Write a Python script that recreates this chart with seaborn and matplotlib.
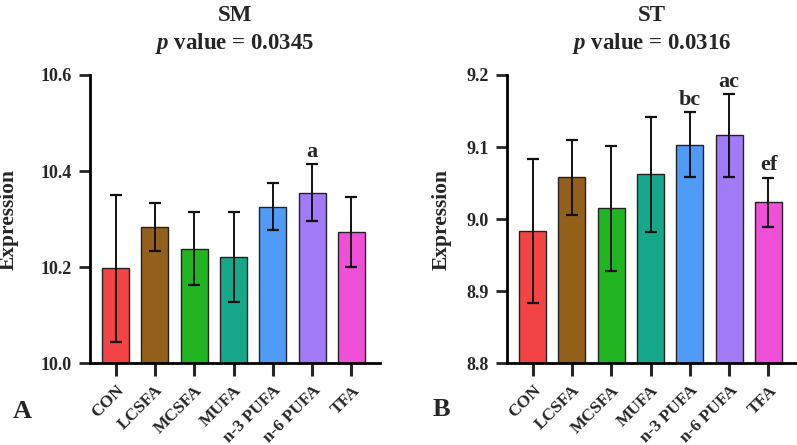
import matplotlib
matplotlib.use("Agg")
import numpy as np
import pandas as pd
import matplotlib.pyplot as plt
import seaborn as sns

# data
groups = ['CON', 'LCSFA', 'MCSFA', 'MUFA', 'n-3 PUFA', 'n-6 PUFA', 'TFA']
sm_mean = [10.198, 10.283, 10.238, 10.221, 10.326, 10.355, 10.273]
sm_sd = [0.153, 0.050, 0.076, 0.094, 0.049, 0.059, 0.073]
sm_marks = ['', '', '', '', '', 'a', '']
st_mean = [8.983, 9.058, 9.015, 9.062, 9.103, 9.116, 9.023]
st_sd = [0.100, 0.052, 0.087, 0.080, 0.045, 0.057, 0.034]
st_marks = ['', '', '', '', 'bc', 'ac', 'ef']
colors = ['#F24444', '#93601C', '#22B522', '#16A88A', '#4F9BF5', '#A07BF5', '#F04FD8']

sns.set_style('white')
plt.rcParams['font.family'] = ['Liberation Serif', 'DejaVu Serif']
plt.rcParams['font.weight'] = 'bold'
plt.rcParams['mathtext.fontset'] = 'custom'
plt.rcParams['mathtext.it'] = 'Liberation Serif:italic:bold'
plt.rcParams['mathtext.rm'] = 'Liberation Serif:bold'

fig = plt.figure(figsize=(7.97, 4.45), dpi=100)
ax1 = fig.add_axes([0.1125, 0.184, 0.3645, 0.6475])
ax2 = fig.add_axes([0.6357, 0.184, 0.3645, 0.6475])


def panel(ax, mean, sd, marks, title, pval, ylim, yticks, label_x):
    df = pd.DataFrame({'group': groups, 'value': mean})
    sns.barplot(data=df, x='group', y='value', hue='group', palette=colors,
                saturation=1, legend=False, width=0.69, edgecolor='#222222',
                linewidth=1.0, errorbar=None, ax=ax)
    ax.errorbar(np.arange(len(groups)), mean, yerr=sd, fmt='none',
                ecolor='#111111', elinewidth=1.4, capsize=4.2, capthick=1.6, zorder=5)
    for i, m in enumerate(marks):
        if m:
            ax.annotate(m, (i, mean[i] + sd[i]), xytext=(0, 2), textcoords='offset points',
                        ha='center', va='bottom', fontsize=16, fontweight='bold')
    ax.set_ylim(*ylim)
    ax.set_xlim(-0.66, 6.73)
    ax.set_yticks(yticks)
    ax.set_yticklabels(['%.1f' % t for t in yticks], fontsize=13, fontweight='bold')
    ax.set_xticks(range(len(groups)))
    ax.set_xticklabels(groups, rotation=45, ha='right', rotation_mode='anchor',
                       fontsize=12.5, fontweight='bold')
    ax.tick_params(axis='x', bottom=True, length=9, width=2.2, direction='out', pad=5)
    ax.tick_params(axis='y', left=True, length=8, width=2.0, direction='out', pad=5)
    ax.set_xlabel('')
    ax.set_ylabel('Expression', fontsize=15.5, fontweight='bold')
    ax.yaxis.set_label_coords(label_x, 0.5)
    ax.set_title(title + '\n$p$ value = ' + pval, fontsize=16.5, fontweight='bold',
                 pad=19, linespacing=1.25)
    for s in ['top', 'right']:
        ax.spines[s].set_visible(False)
    for s in ['left', 'bottom']:
        ax.spines[s].set_linewidth(2.0)
        ax.spines[s].set_color('black')


panel(ax1, sm_mean, sm_sd, sm_marks, 'SM', '0.0345', (10.0, 10.6), [10.0, 10.2, 10.4, 10.6], -0.243)
panel(ax2, st_mean, st_sd, st_marks, 'ST', '0.0316', (8.8, 9.2), [8.8, 8.9, 9.0, 9.1, 9.2], -0.188)

fig.text(0.016, 0.075, 'A', fontsize=19, fontweight='bold', va='center')
fig.text(0.543, 0.079, 'B', fontsize=19, fontweight='bold', va='center')

fig.savefig('out.png', dpi=100)
